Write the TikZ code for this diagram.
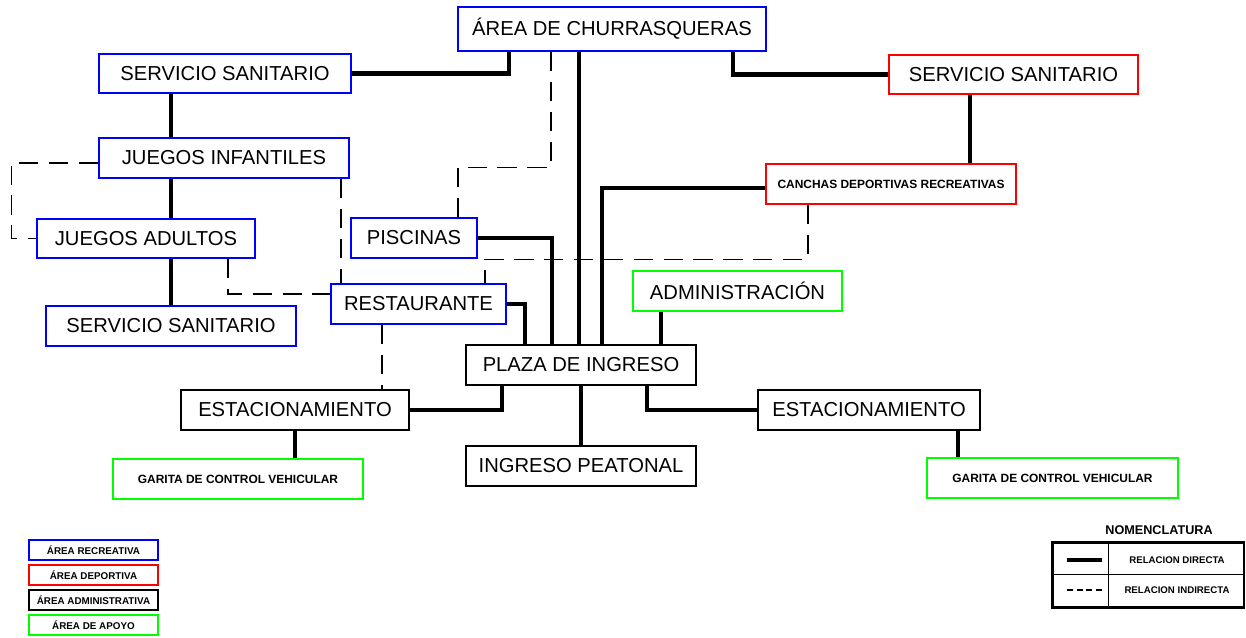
\documentclass[tikz,border=0pt]{standalone}
\usepackage{fontspec}
\setmainfont{Liberation Sans}
\usetikzlibrary{calc,positioning}

\begin{document}
\begin{tikzpicture}[x=0.02cm,y=-0.02cm,
  box/.style={draw,line width=1.1pt,fill=white,minimum width=5cm,minimum height=0.8cm,inner sep=0pt,font=\fontsize{11.5}{13}\selectfont},
  rec/.style={draw=blue},
  dep/.style={draw=red},
  adm/.style={draw=black},
  apo/.style={draw=green},
  tiny/.style={font=\bfseries\fontsize{6.8}{8}\selectfont},
  legbox/.style={draw,line width=1.1pt,minimum width=2.58cm,minimum height=0.4cm,inner sep=0pt,font=\bfseries\fontsize{5.6}{6}\selectfont},
  direct/.style={line width=2.8pt},
  indirect/.style={line width=0.6pt,dash pattern=on 11pt off 6pt}]
\useasboundingbox (0,0) rectangle (1246,637);

% zonas
\node[box,rec,minimum width=6.16cm,minimum height=0.88cm] (churr) at (612,29) {ÁREA DE CHURRASQUERAS};
\node[box,rec,minimum width=5.04cm,minimum height=0.78cm] (ssA) at (225,73.5) {SERVICIO SANITARIO};
\node[box,dep,minimum width=4.98cm,minimum height=0.78cm] (ssB) at (1013.5,74.5) {SERVICIO SANITARIO};
\node[box,rec] (jinf) at (224,158) {JUEGOS INFANTILES};
\node[box,dep,tiny] (canchas) at (891,184) {CANCHAS DEPORTIVAS RECREATIVAS};
\node[box,rec,minimum width=4.36cm,minimum height=0.78cm] (jadu) at (146,238.5) {JUEGOS ADULTOS};
\node[box,rec,minimum width=2.52cm] (pisc) at (414,238) {PISCINAS};
\node[box,rec,minimum width=3.5cm] (rest) at (418.5,304) {RESTAURANTE};
\node[box,apo,minimum width=4.18cm] (admin) at (737.5,291) {ADMINISTRACIÓN};
\node[box,rec] (ssC) at (171,326) {SERVICIO SANITARIO};
\node[box,adm,minimum width=4.6cm] (plaza) at (581,365) {PLAZA DE INGRESO};
\node[box,adm,minimum width=4.56cm] (estL) at (295,410) {ESTACIONAMIENTO};
\node[box,adm,minimum width=4.44cm] (estR) at (869,410) {ESTACIONAMIENTO};
\node[box,adm,minimum width=4.6cm] (ingreso) at (581,466) {INGRESO PEATONAL};
\node[box,apo,tiny] (garL) at (238,479) {GARITA DE CONTROL VEHICULAR};
\node[box,apo,tiny,minimum width=5.02cm] (garR) at (1052.5,478) {GARITA DE CONTROL VEHICULAR};

% relaciones indirectas
\draw[indirect] ($(jinf.west)+(0,5)$) -| ($(jadu.west)+(-25,0)$) -- (jadu.west);
\draw[indirect] ($(jinf.south)+(117,0)$) -- ($(rest.north)+(-77.5,0)$);
\draw[indirect] ($(jadu.south)+(82,0)$) |- ($(rest.west)+(0,-10)$);
\draw[indirect] ($(churr.south)+(-61,0)$) |- ($(pisc.north)+(44,-50)$) -- ($(pisc.north)+(44,0)$);
\draw[indirect] ($(canchas.south)+(-83,0)$) |- ($(rest.north)+(66.5,-24)$) -- ($(rest.north)+(66.5,0)$);
\draw[indirect] ($(rest.south)+(-36.5,0)$) -- ($(estL.north)+(87,0)$);

% relaciones directas
\draw[direct] (ssA.east) -| ($(churr.south)+(-103,0)$);
\draw[direct] ($(churr.south)+(-33,0)$) -- ($(plaza.north)+(-2,0)$);
\draw[direct] ($(churr.south)+(121,0)$) |- (ssB.west);
\draw[direct] ($(ssB.south)+(-43.5,0)$) -- ($(canchas.north)+(79,0)$);
\draw[direct] ($(canchas.west)+(0,4)$) -| ($(plaza.north)+(21,0)$);
\draw[direct] (pisc.east) -| ($(plaza.north)+(-29,0)$);
\draw[direct] (rest.east) -| ($(plaza.north)+(-56,0)$);
\draw[direct] ($(admin.south)+(-76.5,0)$) -- ($(plaza.north)+(80,0)$);
\draw[direct] ($(plaza.south)+(-79,0)$) |- (estL.east);
\draw[direct] (plaza.south) -- (ingreso.north);
\draw[direct] ($(plaza.south)+(66,0)$) |- (estR.west);
\draw[direct] (estL.south) -- ($(garL.north)+(57,0)$);
\draw[direct] ($(estR.south)+(89,0)$) -- ($(garR.north)+(-94.5,0)$);
\draw[direct] ($(ssA.south)+(-54,0)$) -- ($(jinf.north)+(-53,0)$);
\draw[direct] ($(jinf.south)+(-53,0)$) -- ($(jadu.north)+(25,0)$);
\draw[direct] ($(jadu.south)+(25,0)$) -- (ssC.north);

% leyenda de areas
\node[legbox,draw=blue] (legrec) at (93.5,550) {ÁREA RECREATIVA};
\node[legbox,draw=red,below=0.06cm of legrec] (legdep) {ÁREA DEPORTIVA};
\node[legbox,draw=black,below=0.06cm of legdep] (legadm) {ÁREA ADMINISTRATIVA};
\node[legbox,draw=green,below=0.06cm of legadm] (legapo) {ÁREA DE APOYO};

% nomenclatura
\node[font=\bfseries\fontsize{7.2}{8}\selectfont] (nomtit) at (1159,530) {NOMENCLATURA};
\node[draw,line width=1.7pt,minimum width=3.84cm,minimum height=1.3cm,inner sep=0pt] (nom) at (1148,574.5) {};
\draw[line width=0.9pt] (nom.west) -- (nom.east);
\draw[line width=0.9pt] ($(nom.north west)+(58,0)$) -- ($(nom.south west)+(58,0)$);
\coordinate (d1) at (1067,560);
\coordinate (d2) at (1102,560);
\coordinate (i1) at (1067,590);
\coordinate (i2) at (1102,590);
\draw[direct] (d1) -- (d2);
\draw[line width=0.6pt,dash pattern=on 3.5pt off 2pt] (i1) -- (i2);
\node[font=\bfseries\fontsize{5.5}{6}\selectfont] (reldir) at (1177,560) {RELACION DIRECTA};
\node[font=\bfseries\fontsize{5.5}{6}\selectfont] (relind) at (1177,590) {RELACION INDIRECTA};
\end{tikzpicture}
\end{document}
